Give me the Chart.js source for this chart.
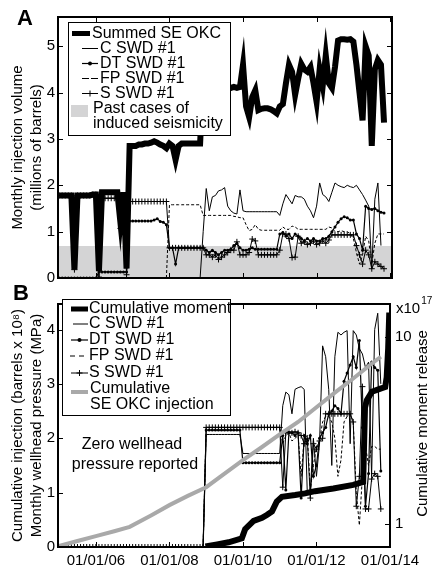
<!DOCTYPE html>
<html>
<head>
<meta charset="utf-8">
<script src="https://cdn.jsdelivr.net/npm/chart.js@4.4.1/dist/chart.umd.min.js"></script>
<style>
  body { margin: 0; background: #fff; }
  #page { position: relative; width: 434px; height: 566px; overflow: hidden; }
  canvas { position: absolute; left: 0; }
  #ca { top: 0; }
  #cb { top: 290px; }
  .tag { position: absolute; z-index: 2; line-height: 1;
         font: bold 22px "Liberation Sans Narrow", "Liberation Sans", Arial, sans-serif; }
</style>
</head>
<body>
<div id="page">
  <canvas id="ca" width="434" height="290"></canvas>
  <canvas id="cb" width="434" height="276"></canvas>
  <div class="tag" style="left:17px;top:5px">A</div>
  <div class="tag" style="left:13px;top:280px">B</div>
</div>
<script>
// monthly series, month 0 = January 2005
const firstYear = 2005;
const yearTicks = [2006, 2008, 2010, 2012, 2014];
const volTicks = [0, 1, 2, 3, 4, 5];
const pressTicks = [0, 1, 2, 3, 4];
const momentTicks = [1, 10];
const pastCasesTop = 0.69;

// panel A: monthly injection volume (millions of barrels)
const summedA = [
  1.78,1.78,1.78,1.78,1.78,0.18,1.78,1.78,1.78,1.78,
  1.78,1.8,1.8,0.15,1.85,1.85,1.85,1.85,1.85,1.85,
  1.2,1.85,0.2,2.85,2.85,2.85,2.88,2.88,2.9,2.9,
  2.92,2.95,2.92,2.88,2.85,2.8,2.9,2.85,2.55,2.85,
  2.9,2.9,2.9,2.9,2.9,2.9,2.9,4.3,4.4,4.3,
  4.2,4.3,4.2,4.1,4.15,4.1,4.1,4.12,4.1,4.12,
  4.6,3.7,3.47,3.9,4.05,3.62,3.65,3.66,3.66,3.64,
  3.6,3.55,3.7,3.75,4.2,4.6,4.45,3.95,4.3,4.62,
  4.5,4.45,4.55,4.2,3.8,4.5,4.15,4.8,4.2,4.1,
  4.55,5.12,5.15,5.15,5.14,5.15,5.1,4.6,4.0,3.4,
  5.0,4.8,2.85,4.5,4.7,4.6,3.35
];
const cStartA = 46;
const cA = [
  0,1.0,1.93,1.45,1.75,1.78,1.88,1.9,1.95,1.55,
  1.45,1.4,1.38,1.9,1.45,1.43,1.43,1.43,1.43,1.43,
  1.43,1.43,1.43,1.43,1.43,1.43,1.35,1.6,1.8,1.7,
  1.6,1.78,1.75,1.75,1.7,1.55,1.45,1.3,1.55,2.05,
  1.8,1.75,1.65,1.85,2.05,2.0,1.97,1.95,2.0,1.97,
  1.95,2.0,1.9,1.8,1.68,1.55,0.2,1.7,2.05,0.7
];
const dtA = [
  0,0,0,0,0,0,0,0,0,0,
  0,0,0,0.13,0.13,0.13,0.13,0.13,0.13,0.13,
  0.13,0.13,0.13,1.23,1.23,1.23,1.23,1.23,1.23,1.23,
  1.23,1.25,1.28,1.22,1.2,1.15,0.65,0.65,0.3,0.65,
  0.65,0.65,0.65,0.65,0.65,0.65,0.65,0.65,0.6,0.55,
  0.6,0.55,0.5,0.55,0.6,0.6,0.62,0.7,0.75,0.65,
  0.6,0.6,0.62,0.65,0.62,0.62,0.62,0.62,0.62,0.62,
  0.62,0.62,0.95,0.98,0.9,0.95,0.85,0.95,0.9,0.85,
  0.8,0.85,0.8,0.85,0.8,0.8,0.85,0.85,0.9,1.0,
  1.1,1.2,1.28,1.32,1.3,1.25,1.25,0.95,0.85,0.6,
  1.55,1.5,1.48,1.5,1.45,1.42,1.4
];
const fpStartA = 35;
const fpA = [
  0,1.58,1.58,1.58,1.58,1.58,1.58,1.58,1.58,1.58,
  1.58,1.58,1.35,1.35,1.35,1.35,1.35,1.35,1.35,1.35,
  1.35,1.35,1.33,1.32,1.3,1.3,1.15,1.02,1.05,1.15,
  1.05,1.03,1.03,1.03,1.03,1.03,1.03,1.03,1.1,1.05,
  1.05,1.12,1.1,1.05,1.05,1.05,1.05,1.05,1.05,1.05,
  1.05,1.05,1.05,1.1,1.08,1.0,1.0,1.02,1.0,1.0,
  0.95,0.85,0.55,0.3,0.5,0.9,0.8,0.3,0.75,0.95,
  0.95,0.95
];
const sA = [
  1.78,1.78,1.78,1.78,1.78,0.18,1.78,1.78,1.78,1.78,
  1.78,1.8,1.8,0.02,1.72,1.72,1.72,1.72,1.72,1.72,
  1.07,1.72,0.07,1.65,1.65,1.65,1.65,1.65,1.65,1.65,
  1.65,1.65,1.65,1.65,1.65,1.65,0.65,0.65,0.65,0.65,
  0.65,0.65,0.65,0.65,0.65,0.65,0.65,0.65,0.5,0.5,
  0.45,0.5,0.4,0.45,0.5,0.55,0.6,0.6,0.78,0.5,
  0.5,0.5,0.55,0.84,0.8,0.5,0.5,0.5,0.5,0.5,
  0.5,0.5,0.6,0.95,0.95,0.85,0.44,0.45,0.9,0.75,
  0.78,0.72,0.75,0.8,0.72,0.75,0.8,0.75,0.82,0.93,
  0.93,0.93,0.93,0.93,0.93,0.93,0.93,0.7,0.5,0.3,
  0.6,0.5,0.2,0.35,0.3,0.25,0.2
];

// panel B: monthly wellhead pressure (MPa)
const pressStartB = 47;
const cB = [
  0,2.07,2.07,2.07,2.07,2.07,2.07,2.07,2.07,2.07,
  2.07,2.07,2.07,1.72,1.72,1.72,1.72,1.72,1.72,1.72,
  1.72,1.72,1.72,1.72,1.72,1.72,2.6,2.85,2.8,2.45,
  2.9,2.93,2.95,2.9,1.0,1.05,2.0,1.3,1.9,3.7,
  3.5,2.9,1.5,3.5,3.95,3.9,3.95,3.98,1.9,3.98,
  3.9,3.65,3.55,3.3,3.4,1.3,4.0,4.3,3.0
];
const dtB = [
  0,2.15,2.15,2.15,2.15,2.15,2.15,2.15,2.15,2.15,
  2.15,2.15,2.15,1.55,1.55,1.55,1.55,1.55,1.55,1.55,
  1.55,1.55,1.55,1.55,1.55,1.55,2.05,1.05,2.1,2.1,
  2.05,2.1,0.9,2.05,1.9,2.05,1.3,1.5,2.0,2.1,
  2.2,2.45,2.5,2.6,2.55,2.45,3.05,3.2,3.35,3.5,
  3.3,3.8,2.2,0.75,1.35,3.4,3.3,3.25,1.4
];
const fpB = [
  0,2.2,2.2,2.2,2.2,2.2,2.2,2.2,2.2,2.2,
  2.2,2.2,2.2,2.2,2.2,2.2,2.2,2.2,2.2,2.2,
  2.2,2.2,2.2,2.2,2.2,2.2,1.9,2.05,2.1,1.95,
  2.0,2.05,1.3,2.0,2.05,1.05,1.5,1.85,1.95,2.3,
  2.4,2.4,2.3,2.0,1.3,1.6,2.3,2.4,2.45,2.3,
  1.0,0.4,1.3,1.85,1.5,1.85,1.85,1.8,1.8
];
const sB = [
  0,0,0,0,0,0,0,0,0,0,
  0,0,0,0,0,0,0,0,0,0,
  0,0,0,0,0,0,0,0,0,0,
  0,0,0,0,0,0,0,0,0,0,
  0,0,0,0,0,0,0,0,2.2,2.2,
  2.2,2.2,2.2,2.2,2.2,2.2,2.2,2.2,2.2,2.2,
  2.2,2.2,2.2,2.2,2.2,2.2,2.2,2.2,2.2,2.2,
  2.2,2.2,2.2,1.1,2.1,2.12,2.1,2.12,2.1,2.05,
  1.9,2.0,0.9,1.9,1.8,1.95,2.0,2.45,2.45,2.45,
  2.45,2.45,2.45,2.45,2.45,2.45,2.3,0.75,1.3,2.95,
  0.7,0.7,1.25,1.35,1.3,0.7
];

// cumulative SE OKC injection (barrels x 10^8)
const injYears = [2005.0,2005.5,2006.0,2006.5,2006.92,2007.5,2008.0,2008.5,2009.0,2009.5,
                  2010.0,2010.5,2011.0,2011.5,2012.0,2012.5,2013.0,2013.5,2013.75];
const injVals  = [0.02,0.11,0.2,0.29,0.37,0.58,0.77,0.94,1.1,1.35,
                  1.6,1.83,2.07,2.3,2.57,2.84,3.1,3.37,3.5];

// cumulative moment release (x 10^17)
const momentYears = [2008.98,2009.3,2009.61,2009.97,2010.06,2010.29,2010.52,2010.65,2010.79,2010.92,
                     2011.06,2011.42,2011.69,2011.96,2012.46,2013.0,2013.27,2013.32,2013.37,2013.51,
                     2013.74,2013.87,2013.91,2013.95,2013.98];
const momentVals  = [0.76,0.78,0.8,0.84,0.94,1.04,1.08,1.12,1.17,1.32,
                     1.4,1.43,1.46,1.5,1.55,1.62,1.68,4.2,4.6,5.1,
                     5.3,5.4,6.1,8.7,13.5];

const FONT = '"Liberation Sans", Arial, sans-serif';
Chart.defaults.font.family = FONT;
Chart.defaults.color = '#000';

const monthly = (arr, start) => arr.map((v, i) => ({x: firstYear + (start + i) / 12, y: v}));
const paired = (xs, ys) => xs.map((x, i) => ({x: x, y: ys[i]}));
const fixTicks = list => s => { s.ticks = list.map(v => ({value: v})); };
const noGrid = { display: false, drawTicks: false };

// box, inward ticks
const frame = {
  id: 'frame',
  afterDatasetsDraw(chart, args, o) {
    const {ctx, chartArea: a, scales} = chart;
    const tl = 5;
    ctx.save();
    ctx.strokeStyle = '#000';
    ctx.lineWidth = 1;
    ctx.beginPath();
    yearTicks.forEach(v => {
      const x = Math.round(scales.x.getPixelForValue(v)) + 0.5;
      if (x < a.left + 1 || x > a.right - 1) return;
      ctx.moveTo(x, a.bottom); ctx.lineTo(x, a.bottom - tl);
      ctx.moveTo(x, a.top); ctx.lineTo(x, a.top + tl);
    });
    o.left.forEach(v => {
      const y = Math.round(scales.y.getPixelForValue(v)) + 0.5;
      ctx.moveTo(a.left, y); ctx.lineTo(a.left + tl, y);
    });
    const rs = scales[o.rightScale];
    o.right.forEach(v => {
      const y = Math.round(rs.getPixelForValue(v)) + 0.5;
      ctx.moveTo(a.right, y); ctx.lineTo(a.right - tl, y);
    });
    ctx.stroke();
    ctx.lineWidth = 2;
    ctx.strokeRect(a.left, a.top, a.right - a.left, a.bottom - a.top);
    ctx.restore();
  }
};

// legend box drawn inside the plot
const key = {
  id: 'key',
  afterDraw(chart, args, k) {
    const ctx = chart.ctx;
    ctx.save();
    ctx.fillStyle = '#fff';
    ctx.fillRect(k.x, k.y, k.w, k.h);
    ctx.strokeStyle = '#000';
    ctx.lineWidth = 1;
    ctx.strokeRect(k.x + 0.5, k.y + 0.5, k.w, k.h);
    ctx.font = '16px ' + FONT;
    ctx.textBaseline = 'middle';
    k.rows.forEach(r => {
      const ds = chart.data.datasets[r.ds];
      const sy = r.sy !== undefined ? r.sy : r.y;
      if (r.patch) {
        ctx.fillStyle = ds.backgroundColor;
        ctx.fillRect(r.x0, sy - 6, r.x1 - r.x0, 12);
      } else {
        ctx.strokeStyle = ds.borderColor;
        ctx.lineWidth = Math.min(ds.borderWidth, 5);
        ctx.setLineDash(r.dash || ds.borderDash || []);
        ctx.beginPath(); ctx.moveTo(r.x0, sy); ctx.lineTo(r.x1, sy); ctx.stroke();
        ctx.setLineDash([]);
        const mx = (r.x0 + r.x1) / 2;
        if (ds.pointStyle === 'circle') {
          ctx.fillStyle = '#000';
          ctx.beginPath(); ctx.arc(mx, sy, 2, 0, Math.PI * 2); ctx.fill();
        } else if (ds.pointStyle === 'cross') {
          ctx.lineWidth = 1;
          ctx.beginPath();
          ctx.moveTo(mx - 3, sy); ctx.lineTo(mx + 3, sy);
          ctx.moveTo(mx, sy - 3); ctx.lineTo(mx, sy + 3);
          ctx.stroke();
        }
      }
      ctx.fillStyle = '#000';
      const lines = r.lines || [ds.label];
      lines.forEach((t, j) => ctx.fillText(t, r.tx, r.y + j * (r.gap || 0)));
    });
    ctx.restore();
  }
};

// extra texts in panel B
const notes = {
  id: 'notes',
  afterDraw(chart) {
    const {ctx, chartArea: a} = chart;
    ctx.save();
    ctx.fillStyle = '#000';
    ctx.textBaseline = 'middle';
    ctx.font = '15px ' + FONT;
    ctx.translate(423, (a.top + a.bottom) / 2 - 2);
    ctx.rotate(-Math.PI / 2);
    ctx.textAlign = 'center';
    ctx.fillText('Cumulative moment release', 0, 0);
    ctx.setTransform(1, 0, 0, 1, 0, 0);
    ctx.textAlign = 'left';
    ctx.fillText('x10', 396, 19);
    const w = ctx.measureText('x10').width;
    ctx.font = '10px ' + FONT;
    ctx.fillText('17', 396 + w + 1, 11);
    ctx.font = '16px ' + FONT;
    ctx.textAlign = 'center';
    ctx.fillText('Zero wellhead', 132, 155);
    ctx.fillText('pressure reported', 135, 175);
    ctx.restore();
  }
};

const common = {
  animation: false,
  responsive: false,
  events: [],
  elements: { line: { tension: 0 } }
};

new Chart(document.getElementById('ca'), {
  type: 'line',
  data: { datasets: [
    { label: 'Summed SE OKC', data: monthly(summedA, 0), borderColor: '#000', borderWidth: 6,
      pointRadius: 0, order: 0 },
    { label: 'C SWD #1', data: monthly(cA, cStartA), borderColor: '#000', borderWidth: 1,
      pointRadius: 0, order: 4 },
    { label: 'DT SWD #1', data: monthly(dtA, 0), borderColor: '#000', borderWidth: 1.2,
      pointStyle: 'circle', pointRadius: 1.5, pointBackgroundColor: '#000', pointBorderWidth: 0, order: 2 },
    { label: 'FP SWD #1', data: monthly(fpA, fpStartA), borderColor: '#000', borderWidth: 1,
      borderDash: [3, 2], pointRadius: 0, order: 3 },
    { label: 'S SWD #1', data: monthly(sA, 0), borderColor: '#000', borderWidth: 1,
      pointStyle: 'cross', pointRadius: 3, pointBorderColor: '#000', pointBorderWidth: 1, order: 1 },
    { label: 'Past cases of induced seismicity',
      data: [{x: 2004.97, y: pastCasesTop}, {x: 2014.05, y: pastCasesTop}],
      fill: 'origin', backgroundColor: '#d4d4d5', borderWidth: 0, pointRadius: 0, order: 9 }
  ]},
  options: Object.assign({}, common, {
    layout: { padding: { top: 17, right: 42, left: 0, bottom: 0 } },
    plugins: {
      legend: { display: false }, tooltip: { enabled: false },
      frame: { left: volTicks, right: volTicks, rightScale: 'y' },
      key: { x: 68, y: 22, w: 162, h: 113, rows: [
        { ds: 0, x0: 72, x1: 90, y: 33.5, tx: 92 },
        { ds: 1, x0: 82, x1: 98, y: 48.5, tx: 100 },
        { ds: 2, x0: 82, x1: 98, y: 63.5, tx: 100 },
        { ds: 3, x0: 82, x1: 98, y: 78.5, tx: 100, dash: [7, 2] },
        { ds: 4, x0: 82, x1: 98, y: 93.5, tx: 100 },
        { ds: 5, patch: true, x0: 71, x1: 88, sy: 111, y: 108.5, tx: 93, gap: 15,
          lines: ['Past cases of', 'induced seismicity'] }
      ]}
    },
    scales: {
      x: { type: 'linear', min: 2004.97, max: 2014.05,
           grid: noGrid, border: { display: false },
           ticks: { display: false }, afterBuildTicks: fixTicks(yearTicks),
           afterFit: s => { s.height = 11; } },
      y: { min: 0, max: 5.63, grid: noGrid, border: { display: false },
           afterBuildTicks: fixTicks(volTicks),
           ticks: { font: { size: 15 }, padding: 3 },
           title: { display: true, text: ['Monthly injection volume', '(millions of barrels)'],
                    font: { size: 15, lineHeight: 1.3 }, padding: { top: 8, bottom: 0 } },
           afterFit: s => { s.width = 58; } }
    }
  }),
  plugins: [frame, key]
});

new Chart(document.getElementById('cb'), {
  type: 'line',
  data: { datasets: [
    { label: 'Cumulative moment', data: paired(momentYears, momentVals), yAxisID: 'y2',
      borderColor: '#000', borderWidth: 6, pointRadius: 0, order: 0 },
    { label: 'C SWD #1', data: monthly(cB, pressStartB), borderColor: '#000', borderWidth: 1,
      pointRadius: 0, order: 5 },
    { label: 'DT SWD #1', data: monthly(dtB, pressStartB), borderColor: '#000', borderWidth: 1.2,
      pointStyle: 'circle', pointRadius: 1.5, pointBackgroundColor: '#000', pointBorderWidth: 0, order: 4 },
    { label: 'FP SWD #1', data: monthly(fpB, pressStartB), borderColor: '#000', borderWidth: 1,
      borderDash: [3, 2], pointRadius: 0, order: 3 },
    { label: 'S SWD #1', data: monthly(sB, 0), borderColor: '#000', borderWidth: 1,
      pointStyle: 'cross', pointRadius: 3, pointBorderColor: '#000', pointBorderWidth: 1, order: 2 },
    { label: 'Cumulative SE OKC injection', data: paired(injYears, injVals),
      borderColor: '#a9a9a9', borderWidth: 4, pointRadius: 0, order: 1 }
  ]},
  options: Object.assign({}, common, {
    layout: { padding: { top: 8, right: 0, left: 0, bottom: 0 } },
    plugins: {
      legend: { display: false }, tooltip: { enabled: false },
      frame: { left: pressTicks, right: momentTicks, rightScale: 'y2' },
      key: { x: 62, y: 9, w: 168, h: 116, rows: [
        { ds: 0, x0: 71, x1: 88, y: 19, tx: 89 },
        { ds: 1, x0: 73, x1: 88, y: 34, tx: 89 },
        { ds: 2, x0: 71, x1: 88, y: 50, tx: 89 },
        { ds: 3, x0: 70, x1: 88, y: 66, tx: 89, dash: [5, 4] },
        { ds: 4, x0: 71, x1: 88, y: 83, tx: 89 },
        { ds: 5, x0: 71, x1: 88, y: 99, sy: 102, tx: 90, gap: 16,
          lines: ['Cumulative', 'SE OKC injection'] }
      ]}
    },
    scales: {
      x: { type: 'linear', min: 2004.97, max: 2014.0,
           grid: noGrid, border: { display: false },
           afterBuildTicks: fixTicks(yearTicks),
           ticks: { font: { size: 15 }, padding: 5, maxRotation: 0,
                    callback: v => '01/01/' + String(v).slice(2) },
           afterFit: s => { s.height = 19; } },
      y: { min: 0, max: 4.47, grid: noGrid, border: { display: false },
           afterBuildTicks: fixTicks(pressTicks),
           ticks: { font: { size: 15 }, padding: 3 },
           title: { display: true,
                    text: ['Cumulative injection (barrels x 10\u2078)', 'Monthly wellhead pressure (MPa)'],
                    font: { size: 15, lineHeight: 1.3 }, padding: { top: 8, bottom: 0 } },
           afterFit: s => { s.width = 58; } },
      y2: { type: 'logarithmic', position: 'right', min: 0.755, max: 15,
            grid: noGrid, border: { display: false },
            afterBuildTicks: fixTicks(momentTicks),
            ticks: { font: { size: 15 }, padding: 5, callback: v => String(v) },
            afterFit: s => { s.width = 44; } }
    }
  }),
  plugins: [frame, key, notes]
});
</script>
</body>
</html>
